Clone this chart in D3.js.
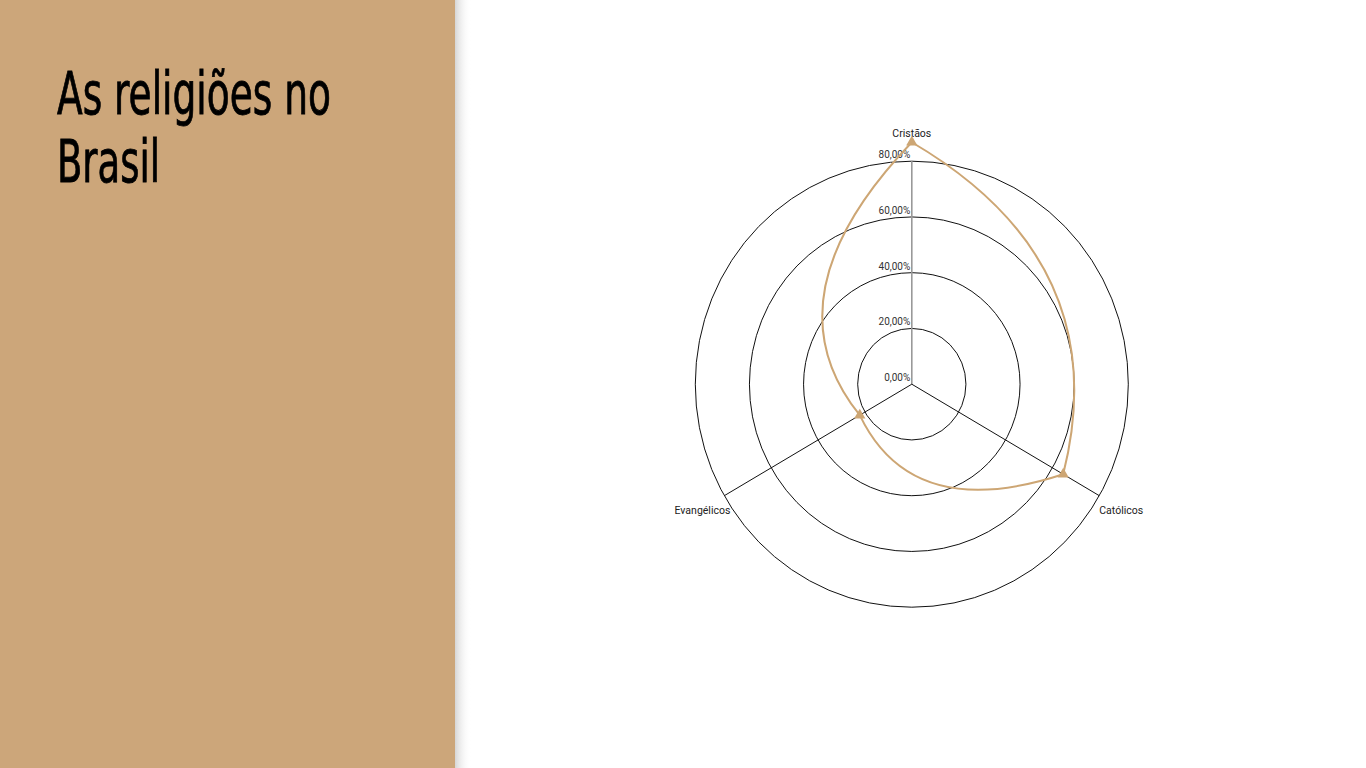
<!DOCTYPE html>
<html>
<head>
<meta charset="utf-8">
<script src="https://cdn.jsdelivr.net/npm/d3@7"></script>
<style>
  body { margin: 0; background: #fff; }
  svg { display: block; }
</style>
</head>
<body>
<script>
// data (census shares, %)
var categories = ["Cristãos", "Católicos", "Evangélicos"];
var values = [86.8, 64.6, 22.2];
var ticks = [0, 20, 40, 60, 80];
var titleLines = ["As religiões no", "Brasil"];

var width = 1366, height = 768;
var tan = "#cca67a";

var svg = d3.select("body").append("svg")
    .attr("width", width)
    .attr("height", height);

// left panel with a soft shadow on its right edge
var defs = svg.append("defs");
var grad = defs.append("linearGradient").attr("id", "shade")
    .attr("x1", 0).attr("x2", 1).attr("y1", 0).attr("y2", 0);
grad.append("stop").attr("offset", 0).attr("stop-color", "#d6d6d6");
grad.append("stop").attr("offset", 1).attr("stop-color", "#fff").attr("stop-opacity", 0);

svg.append("rect").attr("x", 455).attr("y", 0)
    .attr("width", 16).attr("height", height)
    .attr("fill", "url(#shade)");
svg.append("rect").attr("x", 0).attr("y", 0)
    .attr("width", 455).attr("height", height)
    .attr("fill", tan);

var titleWidths = [274, 103];
svg.append("g").attr("class", "title")
    .selectAll("text")
    .data(titleLines)
    .enter().append("text")
    .attr("x", 57)
    .attr("y", function(d, i) { return 114 + i * 68; })
    .attr("textLength", function(d, i) { return titleWidths[i]; })
    .attr("lengthAdjust", "spacingAndGlyphs")
    .attr("font-family", "'Liberation Sans Narrow', 'DejaVu Sans Condensed', sans-serif")
    .attr("font-weight", 400)
    .attr("font-size", 58)
    .attr("fill", "#000")
    .attr("stroke", "#000")
    .attr("stroke-width", 0.8)
    .text(function(d) { return d; });

// radar chart
var cx = 911.8, cy = 384.2;
var rX = d3.scaleLinear().domain([0, 80]).range([0, 216.5]);
var rY = d3.scaleLinear().domain([0, 80]).range([0, 223]);
var step = 2 * Math.PI / categories.length;
function ang(i) { return i * step; }

function polar(a, v) { return [cx + rX(v) * Math.sin(a), cy - rY(v) * Math.cos(a)]; }

var chart = svg.append("g").attr("class", "radar");

// rings
chart.append("g").selectAll("ellipse")
    .data(ticks.slice(1))
    .enter().append("ellipse")
    .attr("cx", cx).attr("cy", cy)
    .attr("rx", function(d) { return rX(d); })
    .attr("ry", function(d) { return rY(d); })
    .attr("fill", "none")
    .attr("stroke", "#111")
    .attr("stroke-width", 1);

// spokes
chart.append("g").selectAll("line")
    .data(categories)
    .enter().append("line")
    .attr("x1", cx).attr("y1", cy)
    .attr("x2", function(d, i) { return polar(ang(i), 80)[0]; })
    .attr("y2", function(d, i) { return polar(ang(i), 80)[1]; })
    .attr("stroke", function(d, i) { return i === 0 ? "#999" : "#111"; })
    .attr("stroke-width", function(d, i) { return i === 0 ? 1.6 : 1; });

// tick labels
chart.append("g").selectAll("text")
    .data(ticks)
    .enter().append("text")
    .attr("x", cx - 1.5)
    .attr("y", function(d) { return cy - rY(d) - 3; })
    .attr("text-anchor", "end")
    .attr("font-family", "Roboto, sans-serif")
    .attr("font-size", 10)
    .attr("fill", "#333")
    .text(function(d) { return d3.format(".2f")(d).replace(".", ",") + "%"; });

// category labels
chart.append("g").selectAll("text")
    .data(categories)
    .enter().append("text")
    .attr("x", function(d, i) {
        var s = Math.sin(ang(i));
        return cx + (rX(80) + (s > 0 ? 0 : -7)) * s;
    })
    .attr("y", function(d, i) {
        var c = Math.cos(ang(i));
        return c > 0 ? cy - rY(80) - 24 : cy - (rY(80) + 24) * c + 6;
    })
    .attr("text-anchor", function(d, i) {
        var s = Math.sin(ang(i));
        return Math.abs(s) < 0.01 ? "middle" : (s > 0 ? "start" : "end");
    })
    .attr("font-family", "Roboto, sans-serif")
    .attr("font-size", 10.5)
    .attr("fill", "#222")
    .text(function(d) { return d; });

// data line: one quadratic per segment, bent around the mid-angle between axes
var pts = values.map(function(v, i) { return polar(ang(i), v); });
var bend = 2 / Math.sqrt(3);
var line = d3.path();
line.moveTo(pts[0][0], pts[0][1]);
values.forEach(function(v, i) {
    var j = (i + 1) % values.length;
    var q = polar(ang(i) + step / 2, bend * (v + values[j]) / 2);
    line.quadraticCurveTo(q[0], q[1], pts[j][0], pts[j][1]);
});
line.closePath();

chart.append("path")
    .attr("d", line.toString())
    .attr("fill", "none")
    .attr("stroke", "#cda674")
    .attr("stroke-width", 2)
    .attr("stroke-linejoin", "round");

chart.append("g").selectAll("path")
    .data(pts)
    .enter().append("path")
    .attr("transform", function(d) { return "translate(" + d[0] + "," + d[1] + ")"; })
    .attr("d", d3.symbol().type(d3.symbolTriangle).size(55))
    .attr("fill", "#cda674");
</script>
</body>
</html>
